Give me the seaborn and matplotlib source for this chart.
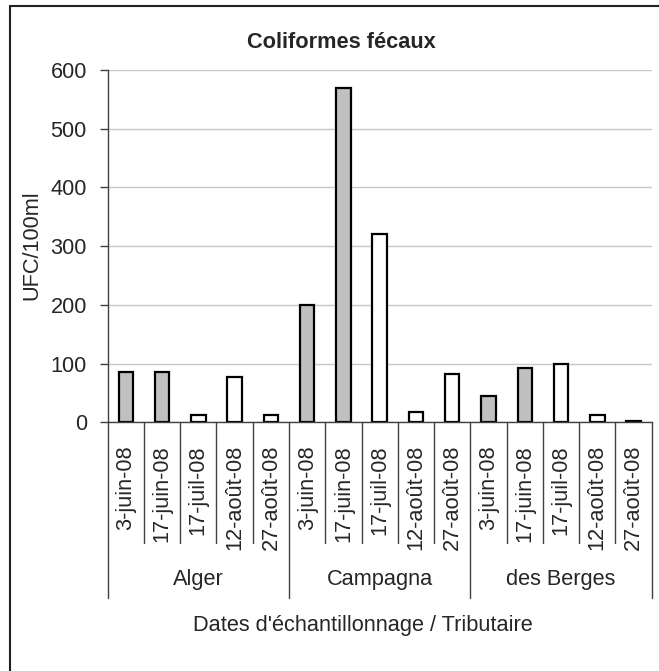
import matplotlib
matplotlib.use("Agg")
import matplotlib.pyplot as plt
import seaborn as sns
import pandas as pd
from matplotlib.lines import Line2D
import matplotlib.transforms as mtransforms

# ---- data ----
tributaries = ["Alger", "Campagna", "des Berges"]
dates = ["3-juin-08", "17-juin-08", "17-juil-08", "12-août-08", "27-août-08"]
alger = [85, 85, 13, 78, 13]
campagna = [200, 570, 320, 17, 82]
des_berges = [45, 92, 100, 13, 3]
date_colors = {"3-juin-08": "#c0c0c0", "17-juin-08": "#c0c0c0",
               "17-juil-08": "#ffffff", "12-août-08": "#ffffff", "27-août-08": "#ffffff"}
yticks = [0, 100, 200, 300, 400, 500, 600]

values = {"Alger": alger, "Campagna": campagna, "des Berges": des_berges}
rows = []
for t in tributaries:
    for d, v in zip(dates, values[t]):
        rows.append({"key": f"{t}|{d}", "tributaire": t, "date": d, "value": v})
df = pd.DataFrame(rows)

sns.set_style("white")
plt.rcParams["font.family"] = ["Liberation Sans", "DejaVu Sans"]
FS = 15.7

W, H = 659, 671
fig = plt.figure(figsize=(W / 100, H / 100), dpi=100)
ax = fig.add_axes([107.7 / W, 1 - 422.3 / H, (651.7 - 107.7) / W, (422.3 - 70) / H])

sns.barplot(data=df, x="key", y="value", hue="date", palette=date_colors,
            dodge=False, width=0.4, edgecolor="black", linewidth=1.6,
            legend=False, ax=ax, order=list(df["key"]))

n = len(df)
ax.set_xlim(-0.5, n - 0.5)
ax.set_ylim(0, 600)
ax.set_yticks(yticks)
ax.set_yticklabels([str(v) for v in yticks], fontsize=FS)
ax.yaxis.grid(True, color="#c8c8c8", linewidth=1)
ax.set_axisbelow(True)
ax.tick_params(axis="y", direction="out", length=6, width=1, color="#404040", pad=9, left=True)
for s in ["top", "right"]:
    ax.spines[s].set_visible(False)
ax.spines["left"].set_color("#404040")
ax.spines["bottom"].set_color("#404040")
ax.spines["left"].set_linewidth(1)
ax.spines["bottom"].set_linewidth(1)

ax.set_xticks([])
ax.set_xlabel("")
ax.set_ylabel("")

trans = mtransforms.blended_transform_factory(ax.transData, ax.transAxes)
ah = 422.3 - 70
short_len = (543 - 422.3) / ah
long_len = (598 - 422.3) / ah
label_top = (445 - 422.3) / ah

for i in range(n + 1):
    x = i - 0.5
    ln = long_len if i % 5 == 0 else short_len
    ax.add_line(Line2D([x, x], [0, -ln], transform=trans, color="#404040",
                       linewidth=1, clip_on=False))

for i, r in df.iterrows():
    ax.text(i, -label_top, r["date"], transform=trans, rotation=90,
            ha="center", va="top", fontsize=FS, clip_on=False)

group_y = (579 - 422.3) / ah
for g, t in enumerate(tributaries):
    ax.text(g * 5 + 2, -group_y, t, transform=trans, ha="center", va="center",
            fontsize=FS, clip_on=False)

fig.text(341 / W, 1 - 42 / H, "Coliformes fécaux", ha="center", va="center",
         fontsize=FS, fontweight="bold")
fig.text(32 / W, 1 - 245 / H, "UFC/100ml", rotation=90, ha="center", va="center",
         fontsize=FS)
fig.text(533 / W, 1 - 626 / H, "Dates d'échantillonnage / Tributaire", ha="right",
         va="center", fontsize=FS)

# outer chart frame (top and left edges visible)
fig.add_artist(Line2D([9.5 / W, 1.0], [1 - 6 / H, 1 - 6 / H], transform=fig.transFigure,
                      color="#202020", linewidth=1.5))
fig.add_artist(Line2D([9.5 / W, 9.5 / W], [1 - 6 / H, 0], transform=fig.transFigure,
                      color="#202020", linewidth=1.5))

fig.savefig("out.png", dpi=100)
